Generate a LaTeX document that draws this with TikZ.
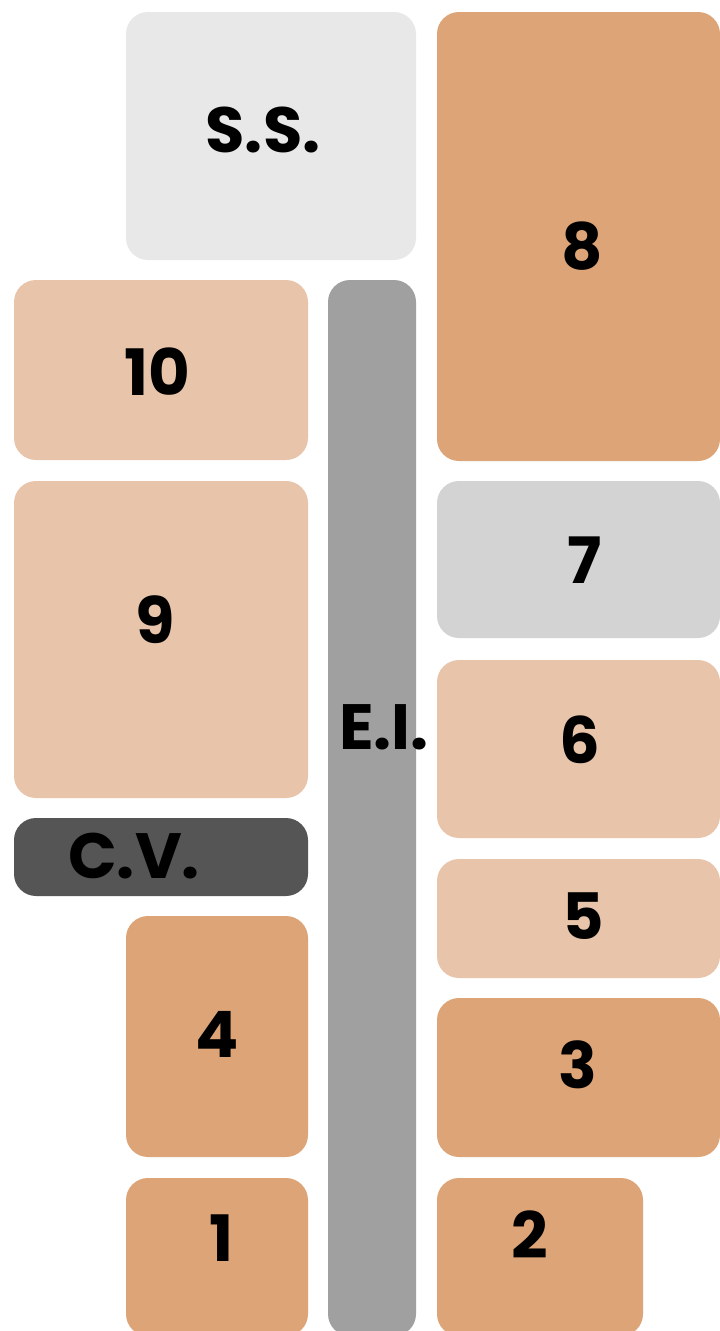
\documentclass[tikz,border=0pt]{standalone}
\usepackage{fontspec}
\setmainfont{Poppins}
\definecolor{tan}{HTML}{DDA577}
\definecolor{peach}{HTML}{E8C5AA}
\definecolor{lgrey}{HTML}{E8E8E8}
\definecolor{mgrey}{HTML}{D3D3D3}
\definecolor{corr}{HTML}{A0A0A0}
\definecolor{dgrey}{HTML}{555555}
\tikzset{
  room/.style={rounded corners=22pt},
  lbl/.style={font=\fontsize{64}{64}\selectfont\bfseries, text=black, inner sep=0pt}
}
\begin{document}
\begin{tikzpicture}[x=1pt,y=-1pt]
\useasboundingbox (0,0) rectangle (720,1331);
\fill[white] (0,0) rectangle (720,1331);
\begin{scope}
\clip (0,0) rectangle (720,1331);
\fill[lgrey, room] (126,12) rectangle (416,260);
\fill[tan, room] (437,12) rectangle (720,461);
\fill[peach, room] (14,280) rectangle (308,460);
\fill[corr, room] (328,280) rectangle (416,1336);
\fill[peach, room] (14,481) rectangle (308,798);
\fill[mgrey, room] (437,481) rectangle (720,638);
\fill[peach, room] (437,660) rectangle (720,838);
\fill[dgrey, room] (14,818) rectangle (308,896);
\fill[peach, room] (437,859) rectangle (720,978);
\fill[tan, room] (126,916) rectangle (308,1157);
\fill[tan, room] (437,998) rectangle (720,1157);
\fill[tan, room] (126,1178) rectangle (308,1336);
\fill[tan, room] (437,1178) rectangle (643,1336);
\end{scope}
\node[lbl] (ss) at (263,130) {S.S.};
\node[lbl] (r8) at (582,246) {8};
\node[lbl] (r10) at (157,372) {10};
\node[lbl] (r9) at (155,620) {9};
\node[lbl] (r7) at (585,560) {7};
\node[lbl] (ei) at (384,727) {E.I.};
\node[lbl] (r6) at (580,740) {6};
\node[lbl] (cv) at (134,856) {C.V.};
\node[lbl] (r5) at (583,916) {5};
\node[lbl] (r4) at (217,1034) {4};
\node[lbl] (r3) at (578,1065) {3};
\node[lbl] (r1) at (222,1238) {1};
\node[lbl] (r2) at (530,1235) {2};
\end{tikzpicture}
\end{document}
